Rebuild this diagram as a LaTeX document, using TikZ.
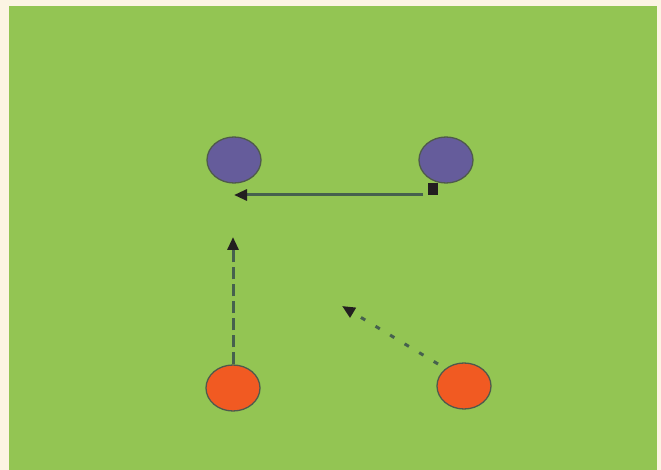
\documentclass[tikz,border=0pt]{standalone}
\usetikzlibrary{shapes.geometric,arrows.meta,calc}
\definecolor{cream}{HTML}{FCF4E3}
\definecolor{field}{HTML}{93C553}
\definecolor{purp}{HTML}{655C9B}
\definecolor{orng}{HTML}{F15A22}
\definecolor{rim}{HTML}{4F5A4C}
\definecolor{pass}{HTML}{46614E}
\definecolor{headc}{HTML}{231F20}
\begin{document}
\begin{tikzpicture}[x=1pt,y=-1pt,
  player/.style={ellipse,draw=rim,line width=1.3pt,minimum width=54pt,minimum height=46pt,inner sep=0pt},
  blue/.style={player,fill=purp},
  red/.style={player,fill=orng},
  tip/.style={-{Triangle[length=13pt,width=11pt,color=headc]}},
  passline/.style={draw=pass,line width=3pt,tip},
  runline/.style={draw=pass,line width=3pt,dash pattern=on 12pt off 5pt,tip},
  dribline/.style={draw=pass,line width=3pt,dash pattern=on 5pt off 12pt,tip}]
\useasboundingbox (0,0) rectangle (661,470);
\fill[cream] (0,0) rectangle (661,470);
\fill[field] (9,6) rectangle (657,470);
\node[blue] (pl) at (234,160) {};
\node[blue] (pr) at (446,160) {};
\node[red] (ol) at (233,388) {};
\node[red] (or) at (464,386) {};
\coordinate (sq) at (433,189);
\coordinate (ps) at (423,195);
\coordinate (pe) at (234,195);
\coordinate (re) at (233,237);
\coordinate (ds) at (438,364);
\coordinate (de) at (342,306);
\fill[headc] ($(sq)+(-5,-6)$) rectangle ($(sq)+(5,6)$);
\draw[passline] (ps) -- (pe);
\draw[runline] (ol.north) -- (re);
\draw[dribline] (ds) -- (de);
\end{tikzpicture}
\end{document}
